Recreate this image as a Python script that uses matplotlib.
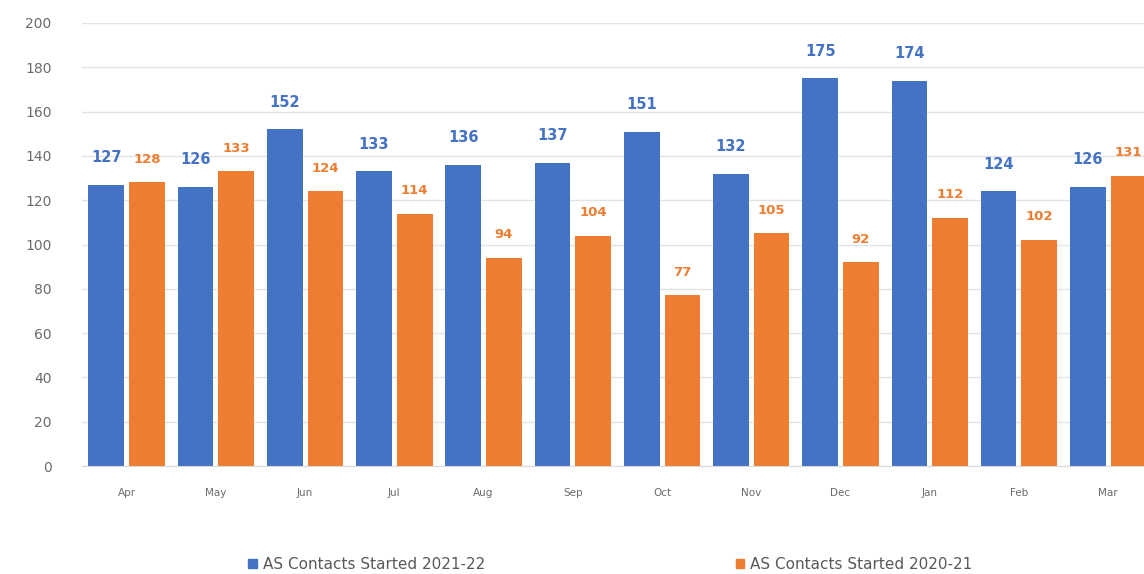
import numpy as np
import matplotlib.pyplot as plt
from matplotlib.patches import Patch

months = ['Apr', 'May', 'Jun', 'Jul', 'Aug', 'Sep', 'Oct', 'Nov', 'Dec', 'Jan', 'Feb', 'Mar']
started_2122 = [127, 126, 152, 133, 136, 137, 151, 132, 175, 174, 124, 126]
started_2021 = [128, 133, 124, 114, 94, 104, 77, 105, 92, 112, 102, 131]
series_names = ['AS Contacts Started 2021-22', 'AS Contacts Started 2020-21']

BLUE = '#4472C4'
ORANGE = '#ED7D31'

fig = plt.figure(figsize=(11.44, 5.74), dpi=100)
# axes deliberately runs past the right edge, like the cropped original
ax = fig.add_axes([0.0717, 0.188, 0.936, 0.772])

x = np.arange(len(months))
w = 0.40
gap = 0.028
b1 = ax.bar(x - w / 2 - gap, started_2122, w, color=BLUE, zorder=2)
b2 = ax.bar(x + w / 2 + gap, started_2021, w, color=ORANGE, zorder=2)

for bars, vals, col, fs, off in [(b1, started_2122, BLUE, 10.5, 14),
                                 (b2, started_2021, ORANGE, 9.5, 12)]:
    for r, v in zip(bars, vals):
        ax.annotate(str(v), (r.get_x() + r.get_width() / 2, v),
                    xytext=(0, off), textcoords='offset points',
                    ha='center', va='bottom', color=col, fontsize=fs,
                    fontweight='bold')

ax.set_xlim(-0.5, len(months) - 0.5)
ax.set_ylim(0, 200)
ax.set_yticks(range(0, 201, 20))
ax.set_xticks(x)
ax.set_xticklabels(months, fontsize=7.5, color='#6b6b6b')
ax.tick_params(axis='y', labelsize=10, colors='#6b6b6b', length=0, pad=22)
ax.tick_params(axis='x', length=0, pad=16)
ax.grid(axis='y', color='#e3e3e3', linewidth=1, zorder=0)
for s in ['top', 'right', 'left']:
    ax.spines[s].set_visible(False)
ax.spines['bottom'].set_color('#d9d9d9')

handles = [Patch(color=BLUE), Patch(color=ORANGE)]
fig.legend(handles, series_names, loc='center left', bbox_to_anchor=(0.205, 0.017),
           ncol=2, frameon=False, fontsize=11, labelcolor='#595959',
           handlelength=0.55, handleheight=0.55, handletextpad=0.4,
           columnspacing=16.4)

fig.savefig('out.png', dpi=100)
